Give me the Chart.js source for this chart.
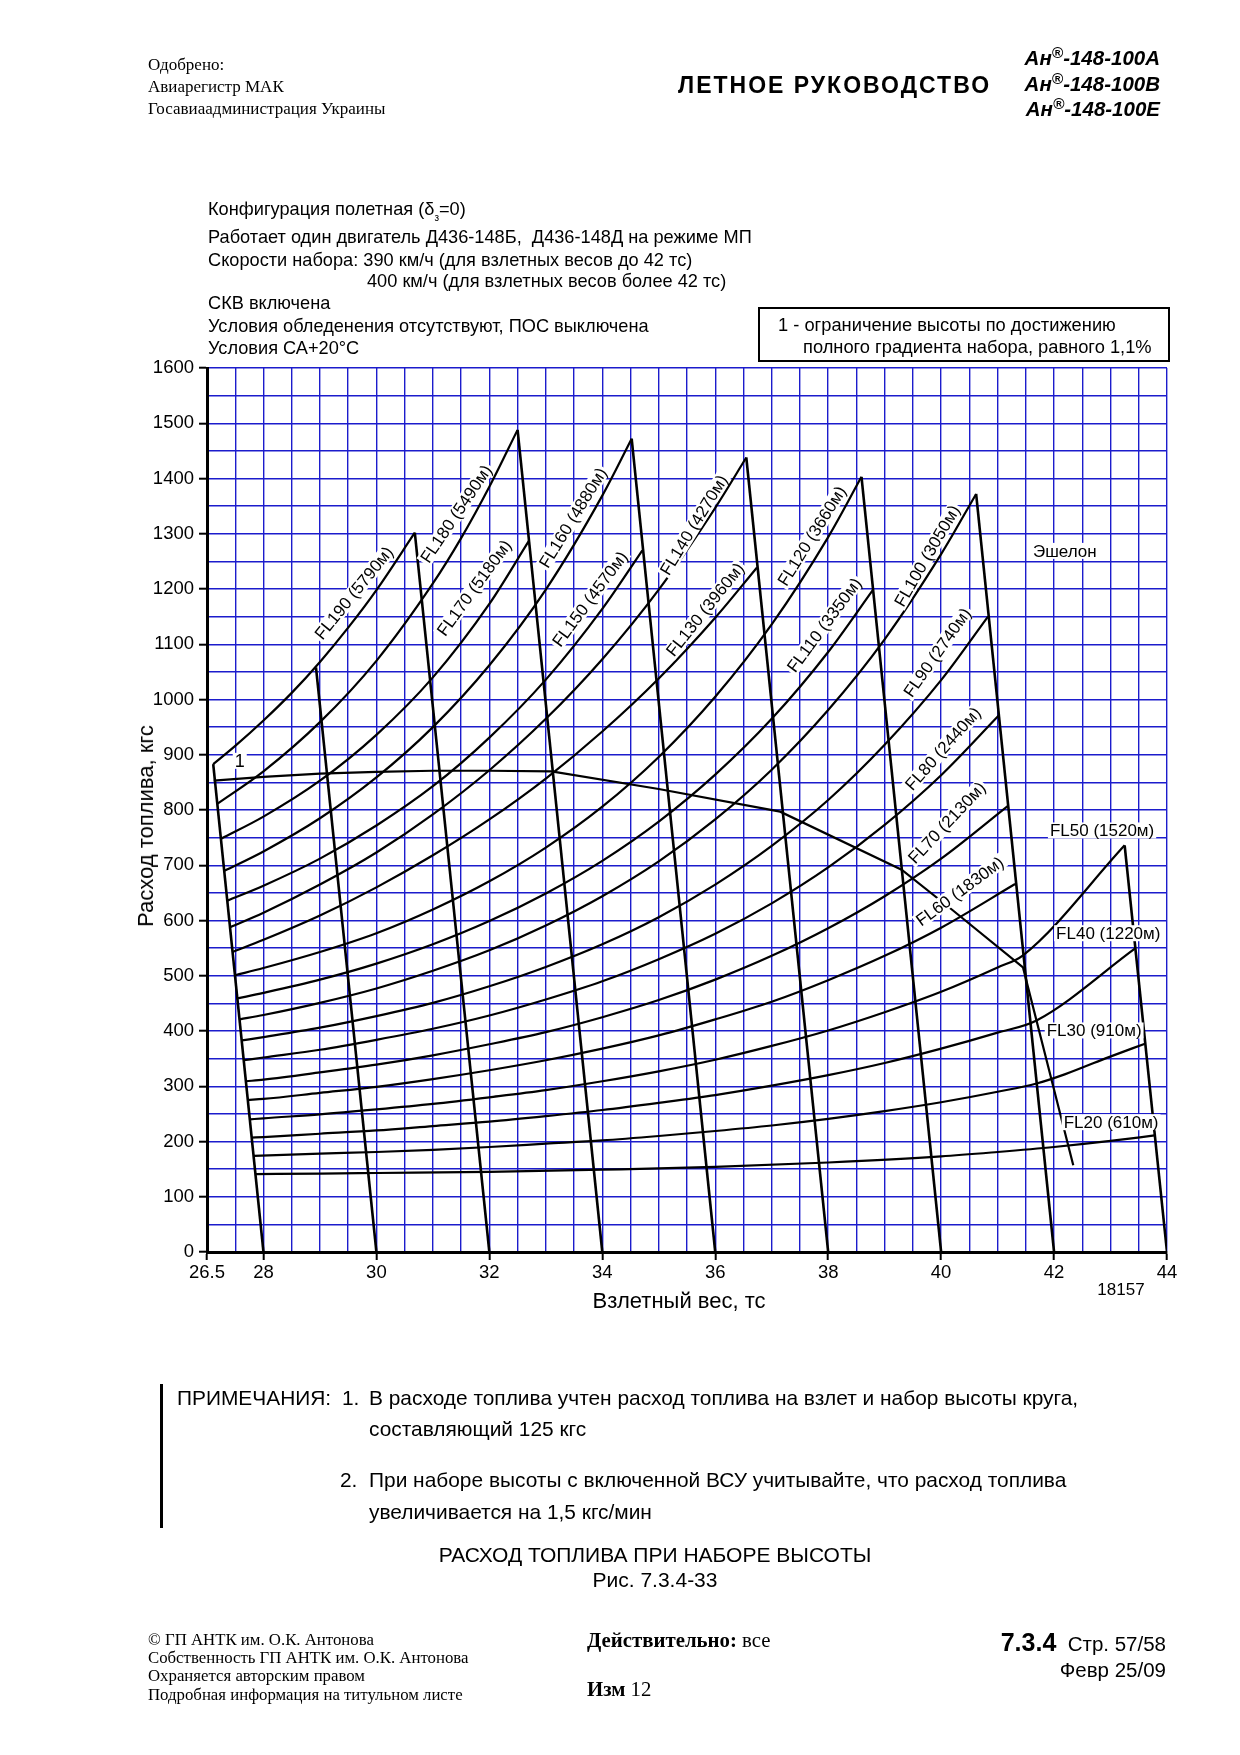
<!DOCTYPE html>
<html><head><meta charset="utf-8">
<script src="https://cdn.jsdelivr.net/npm/chart.js@4.4.0/dist/chart.umd.min.js"></script>
<style>
body{margin:0;background:#fff;}
#page{position:relative;width:1240px;height:1755px;overflow:hidden;background:#fff;font-family:"Liberation Sans",Arial,sans-serif;color:#000;}
.t{position:absolute;white-space:nowrap;line-height:1;transform:translateY(-50%);}
.c{transform:translate(-50%,-50%);}
.serif{font-family:"Liberation Serif","Times New Roman",serif;}
#chart{position:absolute;left:0;top:0;}
sup{font-size:75%;vertical-align:0;position:relative;top:-0.45em;}
</style></head>
<body><div id="page">
<canvas id="chart" width="1240" height="1755"></canvas>

<div class="t serif" style="left:148px;top:64px;font-size:17px">Одобрено:</div>
<div class="t serif" style="left:148px;top:86px;font-size:17px">Авиарегистр МАК</div>
<div class="t serif" style="left:148px;top:108px;font-size:17px">Госавиаадминистрация Украины</div>
<div class="t" style="left:678px;top:85px;font-size:23px;font-weight:bold;letter-spacing:2px">ЛЕТНОЕ РУКОВОДСТВО</div>
<div class="t" style="right:80px;top:58px;font-size:20.5px;font-weight:bold;font-style:italic">Ан<sup>®</sup>-148-100А</div>
<div class="t" style="right:80px;top:84px;font-size:20.5px;font-weight:bold;font-style:italic">Ан<sup>®</sup>-148-100В</div>
<div class="t" style="right:80px;top:109px;font-size:20.5px;font-weight:bold;font-style:italic">Ан<sup>®</sup>-148-100Е</div>

<div class="t" style="left:208px;top:209px;font-size:18.2px">Конфигурация полетная (δ<span style="font-size:10px;position:relative;top:6px">з</span>=0)</div>
<div class="t" style="left:208px;top:237px;font-size:18.2px">Работает один двигатель Д436-148Б,&nbsp; Д436-148Д на режиме МП</div>
<div class="t" style="left:208px;top:260px;font-size:18.2px">Скорости набора: 390 км/ч (для взлетных весов до 42 тс)</div>
<div class="t" style="left:367px;top:281px;font-size:18.2px">400 км/ч (для взлетных весов более 42 тс)</div>
<div class="t" style="left:208px;top:303px;font-size:18.2px">СКВ включена</div>
<div class="t" style="left:208px;top:326px;font-size:18.2px">Условия обледенения отсутствуют, ПОС выключена</div>
<div class="t" style="left:208px;top:348px;font-size:18.2px">Условия СА+20°С</div>

<div style="position:absolute;left:758px;top:307px;width:412px;height:55px;border:2px solid #000;box-sizing:border-box"></div>
<div class="t" style="left:778px;top:325px;font-size:18.3px">1 - ограничение высоты по достижению</div>
<div class="t" style="left:803px;top:347px;font-size:18.3px">полного градиента набора, равного 1,1%</div>

<div class="t c" style="left:146px;top:826px;font-size:22px;transform:translate(-50%,-50%) rotate(-90deg)">Расход топлива, кгс</div>
<div class="t c" style="left:679px;top:1301px;font-size:22px">Взлетный вес, тс</div>
<div class="t c" style="left:1121px;top:1289px;font-size:17px">18157</div>

<div style="position:absolute;left:160px;top:1384px;width:3px;height:144px;background:#000"></div>
<div class="t" style="left:177px;top:1398px;font-size:20.9px">ПРИМЕЧАНИЯ:</div>
<div class="t" style="left:342px;top:1398px;font-size:20.9px">1.</div>
<div class="t" style="left:369px;top:1398px;font-size:20.9px">В расходе топлива учтен расход топлива на взлет и набор высоты круга,</div>
<div class="t" style="left:369px;top:1429px;font-size:20.9px">составляющий 125 кгс</div>
<div class="t" style="left:340px;top:1480px;font-size:20.9px">2.</div>
<div class="t" style="left:369px;top:1480px;font-size:20.9px">При наборе высоты с включенной ВСУ учитывайте, что расход топлива</div>
<div class="t" style="left:369px;top:1512px;font-size:20.9px">увеличивается на 1,5 кгс/мин</div>

<div class="t c" style="left:655px;top:1554px;font-size:21px">РАСХОД ТОПЛИВА ПРИ НАБОРЕ ВЫСОТЫ</div>
<div class="t c" style="left:655px;top:1579px;font-size:21px">Рис. 7.3.4-33</div>

<div class="t serif" style="left:148px;top:1640px;font-size:16.8px">© ГП АНТК им. О.К. Антонова</div>
<div class="t serif" style="left:148px;top:1658px;font-size:16.8px">Собственность ГП АНТК им. О.К. Антонова</div>
<div class="t serif" style="left:148px;top:1676px;font-size:16.8px">Охраняется авторским правом</div>
<div class="t serif" style="left:148px;top:1695px;font-size:16.8px">Подробная информация на титульном листе</div>
<div class="t serif" style="left:587px;top:1640px;font-size:20.8px"><b>Действительно:</b> все</div>
<div class="t serif" style="left:587px;top:1689px;font-size:20.8px"><b>Изм</b> 12</div>
<div class="t" style="right:74px;top:1642px;font-size:20.5px"><b style="font-size:25px">7.3.4</b>&nbsp; Стр. 57/58</div>
<div class="t" style="right:74px;top:1670px;font-size:20.5px">Февр 25/09</div>
</div>

<script>
// ---- Fuel curves [takeoff weight, t ; fuel, kg] per flight level ----
const FL190 = [[27.11,883],[27.5,916],[28,962],[28.5,1012],[29,1068],[29.5,1130],[30,1198],[30.68,1302]];
const FL180 = [[27.18,811],[28,870],[29,959],[30,1070],[31,1210],[31.5,1292],[32,1385],[32.5,1488]];
const FL170 = [[27.25,748],[28,788],[29,853],[30,936],[31,1040],[32,1173],[32.7,1287]];
const FL160 = [[27.31,690],[28,725],[29,785],[30,859],[31,950],[32,1062],[33,1199],[34,1369],[34.52,1472]];
const FL150 = [[27.36,636],[28,663],[29,712],[30,772],[31,843],[32,931],[33,1036],[34,1164],[34.71,1270]];
const FL140 = [[27.41,588],[28,614],[29,665],[30,723],[31,792],[32,872],[33,965],[34,1073],[35,1199],[36,1347],[36.55,1438]];
const FL130 = [[27.45,543],[28,565],[29,609],[30,660],[31,718],[32,783],[33,857],[34,942],[35,1038],[36,1148],[36.74,1239]];
const FL120 = [[27.5,501],[28,514],[29,543],[30,577],[31,620],[32,671],[33,732],[34,806],[35,896],[36,1005],[37,1136],[38,1294],[38.59,1403]];
const FL110 = [[27.54,459],[28,469],[29,493],[30,522],[31,557],[32,599],[33,649],[34,708],[35,779],[36,864],[37,965],[38,1086],[38.79,1198]];
const FL100 = [[27.58,421],[28,429],[29,451],[30,477],[31,509],[32,546],[33,591],[34,644],[35,707],[36,783],[37,873],[38,981],[39,1109],[40,1263],[40.62,1372]];
const FL90  = [[27.62,383],[28,389],[29,406],[30,427],[31,451],[32,481],[33,516],[34,557],[35,606],[36,665],[37,735],[38,818],[39,918],[40,1035],[40.83,1150]];
const FL80  = [[27.65,347],[28,352],[29,366],[30,384],[31,404],[32,428],[33,457],[34,490],[35,530],[36,576],[37,631],[38,696],[39,773],[40,863],[41.02,971]];
const FL70  = [[27.69,309],[28,312],[29,325],[30,339],[31,356],[32,376],[33,398],[34,425],[35,456],[36,493],[37,536],[38,586],[39,644],[40,712],[41.19,808]];
const FL60  = [[27.72,275],[28,277],[29,288],[30,299],[31,313],[32,329],[33,347],[34,368],[35,392],[36,421],[37,453],[38,492],[39,536],[40,587],[41.31,666]];
const FL50  = [[27.76,240],[28,242],[29,249],[30,258],[31,268],[32,280],[33,293],[34,309],[35,327],[36,348],[37,373],[38,401],[39,434],[40,471],[41,515],[41.45,537],[43.25,736]];
const FL40  = [[27.79,207],[28,208],[29,214],[30,220],[31,228],[32,236],[33,246],[34,257],[35,270],[36,284],[37,301],[38,320],[39,342],[40,368],[41,397],[41.69,419],[43.43,549]];
const FL30  = [[27.83,174],[29,178],[30,181],[31,185],[32,190],[33,196],[34,202],[35,210],[36,219],[37,229],[38,241],[39,255],[40,271],[41,290],[41.69,305],[42.2,322],[42.9,350],[43.61,377]];
const FL20  = [[27.86,141],[29,142],[30,143],[32,145],[34,149],[36,154],[38,162],[40,173],[41,181],[42,190],[43,201],[43.78,211]];

// ---- slanted lines (top point -> axis) ----
const GUIDE0 = [[27.11,883],[28,0]];
const GUIDE1 = [[28.93,1058],[30,0]];
const GUIDE2 = [[30.68,1302],[32,0]];
const GUIDE3 = [[32.5,1488],[34,0]];
const GUIDE4 = [[34.52,1472],[36,0]];
const GUIDE5 = [[36.55,1438],[38,0]];
const GUIDE6 = [[38.59,1403],[40,0]];
const GUIDE7 = [[40.62,1372],[42,0]];
const GUIDE8 = [[43.25,736],[44,0]];

// ---- limit line 1 (gradient 1.1%) ----
const LIMIT1 = [[27.12,853],[28,860],[29,866],[30,869],[31,871],[32,871],[33.1,870],[35,838],[37.15,797],[39.3,692],[40.2,619],[41.45,515],[42.34,157]];

// ---- axis ticks ----
const X_TICK_VALUES = [27,28,30,32,34,36,38,40,42,44];
const X_TICK_LABELS = ['26.5','28','30','32','34','36','38','40','42','44'];
const Y_TICK_VALUES = [0,100,200,300,400,500,600,700,800,900,1000,1100,1200,1300,1400,1500,1600];

// ---- curve labels ----
const LABEL_TEXT = ['FL190 (5790м)','FL180 (5490м)','FL170 (5180м)','FL160 (4880м)','FL150 (4570м)','FL140 (4270м)','FL130 (3960м)','FL120 (3660м)','FL110 (3350м)','FL100 (3050м)','FL90 (2740м)','FL80 (2440м)','FL70 (2130м)','FL60 (1830м)','FL50 (1520м)','FL40 (1220м)','FL30 (910м)','FL20 (610м)','Эшелон','1'];
const LABEL_AT = [[29.60,1193],[31.41,1336],[31.73,1202],[33.48,1329],[33.78,1182],[35.62,1316],[35.82,1163],[37.71,1296],[37.93,1135],[39.75,1260],[39.93,1085],[40.03,911],[40.10,777],[40.33,653],[42.85,763],[42.96,577],[42.71,401],[43.01,235],[42.19,1269],[27.58,889]];
const LABEL_ANGLE = [-51,-56,-54,-58.5,-53.5,-58.6,-51.5,-58,-53.5,-60,-55,-48.5,-47,-36.5,0,0,0,0,0,0];

Chart.defaults.font.family = '"Liberation Sans", Arial, sans-serif';
Chart.defaults.color = '#000';

const toXY = arr => arr.map(p => ({x:p[0], y:p[1]}));
const curves = [FL190,FL180,FL170,FL160,FL150,FL140,FL130,FL120,FL110,FL100,FL90,FL80,FL70,FL60,FL50,FL40,FL30,FL20];
const guides = [GUIDE0,GUIDE1,GUIDE2,GUIDE3,GUIDE4,GUIDE5,GUIDE6,GUIDE7,GUIDE8];

const datasets = [];
curves.forEach(c => datasets.push({data:toXY(c), showLine:true, borderColor:'#000', borderWidth:2.2, pointRadius:0, cubicInterpolationMode:'monotone', fill:false}));
guides.forEach(g => datasets.push({data:toXY(g), showLine:true, borderColor:'#000', borderWidth:2.6, pointRadius:0, tension:0, fill:false}));
datasets.push({data:toXY(LIMIT1), showLine:true, borderColor:'#000', borderWidth:2.2, pointRadius:0, tension:0, fill:false});

const xGrid = []; for (let v = 27; v <= 44.001; v += 0.5) xGrid.push(Math.round(v*10)/10);
const yGrid = []; for (let v = 0; v <= 1600; v += 50) yGrid.push(v);

const labelPlugin = {
  id:'curveLabels',
  afterDatasetsDraw(chart){
    const ctx = chart.ctx, xs = chart.scales.x, ys = chart.scales.y;
    ctx.save();
    LABEL_TEXT.forEach((t,i) => {
      const px = xs.getPixelForValue(LABEL_AT[i][0]);
      const py = ys.getPixelForValue(LABEL_AT[i][1]);
      ctx.save();
      ctx.translate(px, py);
      ctx.rotate(LABEL_ANGLE[i]*Math.PI/180);
      ctx.font = (t === '1' ? '18px' : '17px') + ' "Liberation Sans", Arial, sans-serif';
      const w = ctx.measureText(t).width;
      ctx.fillStyle = '#fff';
      ctx.fillRect(-w/2-2, -8, w+4, 16);
      ctx.fillStyle = '#000';
      ctx.textAlign = 'center';
      ctx.textBaseline = 'middle';
      ctx.fillText(t, 0, 1);
      ctx.restore();
    });
    ctx.restore();
  }
};

new Chart(document.getElementById('chart'), {
  type:'scatter',
  data:{datasets},
  plugins:[labelPlugin],
  options:{
    responsive:false, animation:false, devicePixelRatio:1,
    layout:{padding:{left:147, right:73, top:368, bottom:463}},
    plugins:{legend:{display:false}, tooltip:{enabled:false}},
    scales:{
      x:{
        type:'linear', min:27, max:44,
        afterBuildTicks: s => { s.ticks = xGrid.map(v => ({value:v})); },
        afterFit: s => { s.height = 40; },
        ticks:{autoSkip:false, maxRotation:0, padding:2, font:{size:18.5},
          callback: v => { const i = X_TICK_VALUES.indexOf(v); return i >= 0 ? X_TICK_LABELS[i] : ''; }},
        grid:{color:'#1c1ccc', lineWidth:1.4, tickLength:8, tickWidth:2,
          tickColor: c => (c.tick && X_TICK_VALUES.indexOf(c.tick.value) >= 0) ? '#000' : 'rgba(0,0,0,0)'},
        border:{display:true, color:'#000', width:3}
      },
      y:{
        type:'linear', min:0, max:1600,
        afterBuildTicks: s => { s.ticks = yGrid.map(v => ({value:v})); },
        afterFit: s => { s.width = 60; },
        ticks:{autoSkip:false, padding:5, font:{size:18.5},
          callback: v => Y_TICK_VALUES.indexOf(v) >= 0 ? String(v) : ''},
        grid:{color:'#1c1ccc', lineWidth:1.4, tickLength:8, tickWidth:2,
          tickColor: c => (c.tick && Y_TICK_VALUES.indexOf(c.tick.value) >= 0) ? '#000' : 'rgba(0,0,0,0)'},
        border:{display:true, color:'#000', width:3}
      }
    }
  }
});
</script>
</body></html>
